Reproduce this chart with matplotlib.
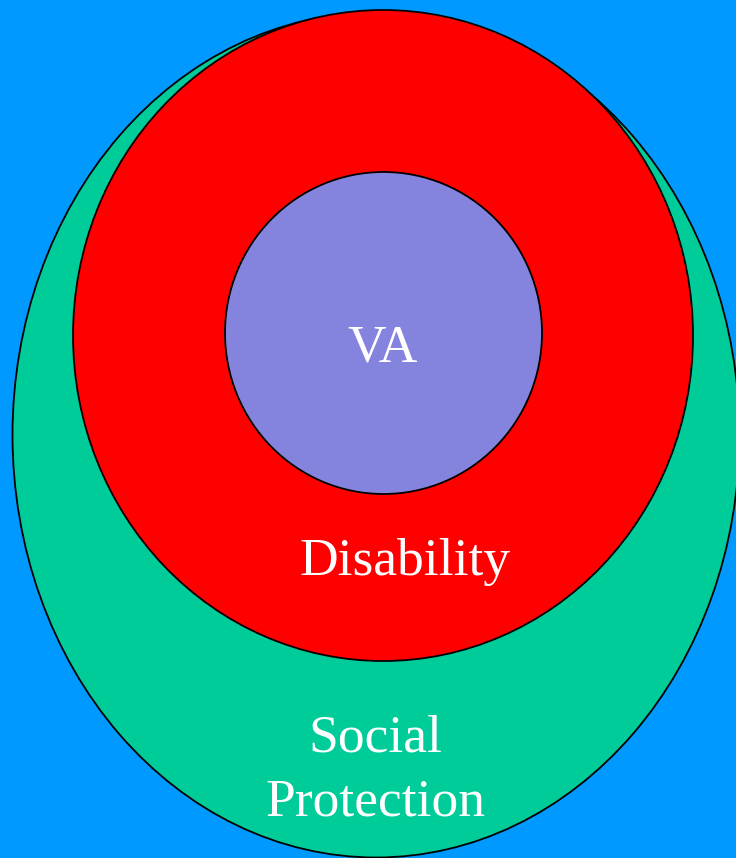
import matplotlib.pyplot as plt
from matplotlib.patches import Ellipse

# nested sets: outermost first
names = ['Social Protection', 'Disability', 'VA']
centers = [(376, 435), (383, 335.5), (383.5, 333)]
widths = [727, 620, 317]
heights = [845, 651, 322]
colors = ['#00CC99', '#FF0000', '#8484DE']

# labels (text, x, baseline y)
labels = ['VA', 'Disability', 'Social', 'Protection']
label_x = [383, 405, 375, 375]
label_y = [362, 575, 752, 815]

fig = plt.figure(figsize=(7.36, 8.58), dpi=100)
fig.patch.set_facecolor('#0099FF')
ax = fig.add_axes([0, 0, 1, 1])
ax.set_xlim(0, 736)
ax.set_ylim(858, 0)
ax.axis('off')

for c, w, h, col in zip(centers, widths, heights, colors):
    ax.add_patch(Ellipse(c, w, h, facecolor=col, edgecolor='black', linewidth=1.3))

for t, x, y in zip(labels, label_x, label_y):
    ax.text(x, y, t, color='white', fontsize=38.5, family='Liberation Serif',
            ha='center', va='baseline')

fig.savefig('out.png', dpi=100, facecolor=fig.get_facecolor())
